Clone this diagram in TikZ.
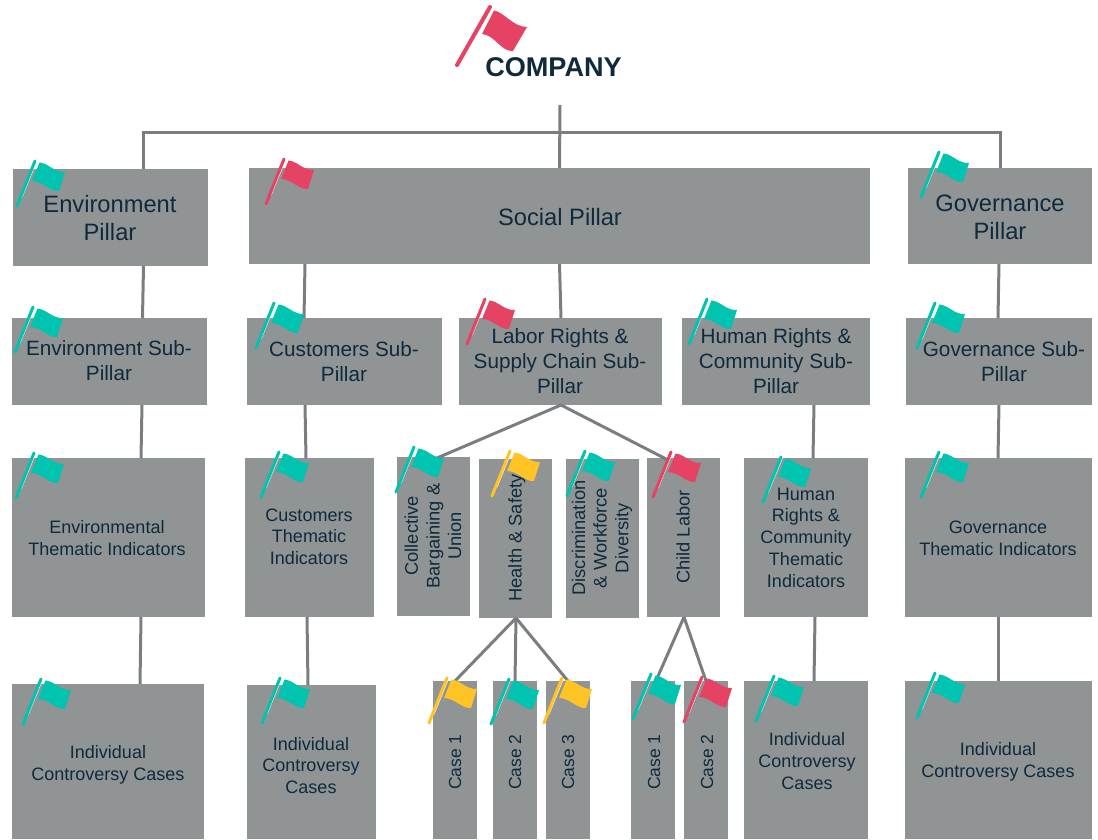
\documentclass[tikz,border=0pt]{standalone}
\usepackage{fontspec}
\setmainfont{Liberation Sans}
\definecolor{boxgray}{HTML}{909495}
\definecolor{linegray}{HTML}{7B7E80}
\definecolor{ink}{HTML}{0F2A3C}
\definecolor{fred}{HTML}{E64263}
\definecolor{fteal}{HTML}{00C4B0}
\definecolor{fyellow}{HTML}{FFC326}
\newcommand{\bx}[5]{%
  \pgfmathsetmacro{\cx}{(#2+#4)/2}\pgfmathsetmacro{\cy}{(#3+#5)/2}%
  \pgfmathsetmacro{\bw}{#4-#2}\pgfmathsetmacro{\bh}{#5-#3}%
  \node[box,minimum width=\bw pt,minimum height=\bh pt] (#1) at (\cx,\cy) {};}
\tikzset{
  box/.style={fill=boxgray,draw=none,inner sep=0pt,outer sep=0pt},
  conn/.style={draw=linegray,line width=3pt},
  lbl/.style={text=ink,align=center,inner sep=0pt},
  fa/.style={lbl,font=\fontsize{23.7}{28}\selectfont},
  fb/.style={lbl,font=\fontsize{20.7}{25}\selectfont},
  fc/.style={lbl,font=\fontsize{18}{21.7}\selectfont},
  fv/.style={lbl,rotate=90,font=\fontsize{18.3}{21.7}\selectfont},
  fk/.style={lbl,rotate=90,font=\fontsize{17.5}{21.7}\selectfont},
  pics/smallflag/.style={code={
    \draw[white,line width=1pt] (5,-9) -- (19.5,-44.5);
    \draw[#1,line width=3pt,line cap=round] (0,0) -- (18,-45);
    \fill[#1] (22.5,-43.5) .. controls (31,-43) and (38,-33) .. (48,-34)
       -- (42,-15) .. controls (33,-14) and (26,-25) .. (15,-25) -- cycle;
  }},
  pics/bigflag/.style={code={
    \draw[white,line width=1pt] (8,-12) -- (35.5,-57);
    \draw[#1,line width=4pt,line cap=round] (0,0) -- (33,-58);
    \fill[#1] (37,-54.5) .. controls (47,-53) and (56,-38) .. (70,-38)
       -- (56,-14) .. controls (44,-13) and (38,-30) .. (25,-31) -- cycle;
  }},
}
\begin{document}
\begin{tikzpicture}[x=1pt,y=-1pt]
\useasboundingbox (0,0) rectangle (1098,839);
% boxes
\bx{envp}{13}{169}{208}{266}
\bx{socp}{249}{168}{870}{264}
\bx{govp}{908}{168}{1092}{264}
\bx{envs}{12}{318}{207}{405}
\bx{cuss}{247}{318}{442}{405}
\bx{labs}{459}{318}{662}{405}
\bx{hums}{682}{318}{870}{405}
\bx{govs}{906}{318}{1092}{405}
\bx{envt}{12}{458}{205}{617}
\bx{cust}{245}{458}{374}{617}
\bx{coll}{397}{457}{470}{616}
\bx{heal}{479}{459}{552}{618}
\bx{disc}{566}{459}{639}{618}
\bx{chil}{647}{458}{720}{617}
\bx{humt}{744}{458}{868}{617}
\bx{govt}{905}{458}{1092}{617}
\bx{envc}{12}{684}{204}{839}
\bx{cusc}{247}{685}{376}{839}
\bx{hca}{433}{681}{477}{839}
\bx{hcb}{493}{681}{537}{839}
\bx{hcc}{546}{681}{590}{839}
\bx{cca}{631}{681}{675}{839}
\bx{ccb}{684}{681}{728}{839}
\bx{humc}{744}{681}{868}{839}
\bx{govc}{905}{681}{1092}{839}
% title
\node[lbl,font=\fontsize{27.1}{30}\bfseries\selectfont] (company) at (553.5,67) {COMPANY};
% connectors
\coordinate (trunk) at (560,105);
\coordinate (bar) at (560,132);
\draw[conn] (trunk) -- (socp.north);
\draw[conn] ([xshift=33pt]envp.north) |- (bar) -| (govp.north);
\draw[conn] ([xshift=33pt]envp.south) -- ([xshift=33pt]envs.north);
\draw[conn] ([xshift=32.5pt]envs.south) -- ([xshift=32.5pt]envt.north);
\draw[conn] ([xshift=32.5pt]envt.south) -- ([xshift=32pt]envc.north);
\draw[conn] ([xshift=-254.5pt]socp.south) -- ([xshift=-40.5pt]cuss.north);
\draw[conn] (socp.south) -- ([xshift=.5pt]labs.north);
\draw[conn] ([xshift=-39.5pt]cuss.south) -- ([xshift=-3.5pt]cust.north);
\draw[conn] ([xshift=-2.5pt]cust.south) -- ([xshift=-3.5pt]cusc.north);
\draw[conn] ([xshift=.5pt]labs.south) -- ([xshift=3.5pt,yshift=-1pt]coll.north);
\draw[conn] ([xshift=.5pt]labs.south) -- ([xshift=-13.5pt,yshift=-3pt]chil.north);
\draw[conn] ([xshift=38pt]hums.south) -- ([xshift=7pt]humt.north);
\draw[conn] ([xshift=-1pt]govp.south) -- ([xshift=-1pt]govs.north);
\draw[conn] (govs.south) -- ([xshift=-.5pt]govt.north);
\draw[conn] ([xshift=-.5pt]govt.south) -- ([xshift=-.5pt]govc.north);
\draw[conn] ([xshift=9pt]humt.south) -- ([xshift=8pt]humc.north);
\draw[conn] ([xshift=.5pt]heal.south) -- (hca.north);
\draw[conn] ([xshift=.5pt]heal.south) -- (hcb.north);
\draw[conn] ([xshift=.5pt]heal.south) -- (hcc.north);
\draw[conn] ([xshift=.5pt]chil.south) -- ([xshift=2pt,yshift=-2pt]cca.north);
\draw[conn] ([xshift=.5pt]chil.south) -- (ccb.north);
% labels
\node[fa] (tenvp) at (110,218) {Environment\\Pillar};
\node[fa] (tsocp) at (560,217) {Social Pillar};
\node[fa] (tgovp) at (1000,217) {Governance\\Pillar};
\node[fb] (tenvs) at (109,361) {Environment Sub-\\Pillar};
\node[fb] (tcuss) at (344,362) {Customers Sub-\\Pillar};
\node[fb] (tlabs) at (560,361) {Labor Rights \&\\Supply Chain Sub-\\Pillar};
\node[fb] (thums) at (776,361) {Human Rights \&\\Community Sub-\\Pillar};
\node[fb] (tgovs) at (1004,362) {Governance Sub-\\Pillar};
\node[fc] (tenvt) at (107,538) {Environmental\\Thematic Indicators};
\node[fc] (tcust) at (309,536.5) {Customers\\Thematic\\Indicators};
\node[fv] (tcoll) at (433,536) {Collective\\Bargaining \&\\Union};
\node[fv] (theal) at (517,538) {Health \& Safety};
\node[fv] (tdisc) at (602,538) {Discrimination\\\& Workforce\\Diversity};
\node[fv] (tchil) at (683,537) {Child Labor};
\node[fc] (thumt) at (806,537.5) {Human\\Rights \&\\Community\\Thematic\\Indicators};
\node[fc] (tgovt) at (998,538) {Governance\\Thematic Indicators};
\node[fc] (tenvc) at (108,764.5) {Individual\\Controversy Cases};
\node[fc] (tcusc) at (311,765.5) {Individual\\Controversy\\Cases};
\node[fk] (thca) at (455,762) {Case 1};
\node[fk] (thcb) at (515,762) {Case 2};
\node[fk] (thcc) at (568,762) {Case 3};
\node[fk] (tcca) at (654,762) {Case 1};
\node[fk] (tccb) at (707,762) {Case 2};
\node[fc] (thumc) at (807,761) {Individual\\Controversy\\Cases};
\node[fc] (tgovc) at (998,761.5) {Individual\\Controversy Cases};
% flags
\pic at (457,65) {bigflag=fred};
\pic at (17,206) {smallflag=fteal};
\pic at (266,204) {smallflag=fred};
\pic at (921,197) {smallflag=fteal};
\pic at (15,352) {smallflag=fteal};
\pic at (256,348) {smallflag=fteal};
\pic at (467,344) {smallflag=fred};
\pic at (689,344) {smallflag=fteal};
\pic at (917,348) {smallflag=fteal};
\pic at (16,498) {smallflag=fteal};
\pic at (261,497) {smallflag=fteal};
\pic at (396,492) {smallflag=fteal};
\pic at (492,496) {smallflag=fyellow};
\pic at (567,496) {smallflag=fteal};
\pic at (653,497) {smallflag=fred};
\pic at (763,502) {smallflag=fteal};
\pic at (921,497) {smallflag=fteal};
\pic at (23,724) {smallflag=fteal};
\pic at (262,723) {smallflag=fteal};
\pic at (429,723) {smallflag=fyellow};
\pic at (491,724) {smallflag=fteal};
\pic at (544,723) {smallflag=fyellow};
\pic at (633,719) {smallflag=fteal};
\pic at (684,722) {smallflag=fred};
\pic at (756,721) {smallflag=fteal};
\pic at (917,718) {smallflag=fteal};
\end{tikzpicture}
\end{document}
